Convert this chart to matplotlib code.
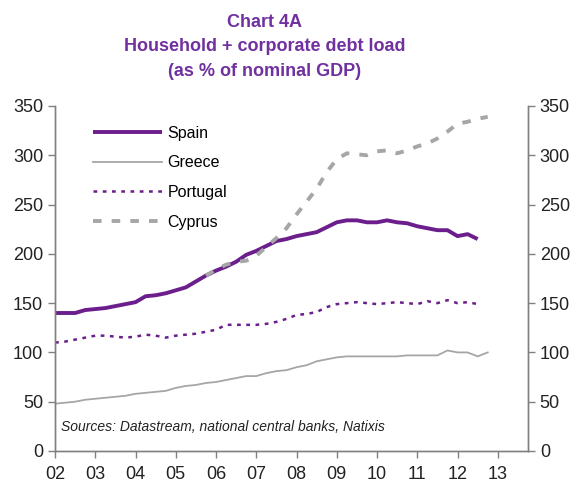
import matplotlib
matplotlib.use("Agg")
import matplotlib.pyplot as plt
import numpy as np

# quarterly observations, values in % of nominal GDP
spain_start = 2002.0
spain = [140, 140, 140, 143, 144, 145, 147, 149, 151, 157, 158, 160,
         163, 166, 172, 178, 183, 187, 192, 199, 203, 208, 213, 215,
         218, 220, 222, 227, 232, 234, 234, 232, 232, 234, 232, 231,
         228, 226, 224, 224, 218, 220, 215]

greece_start = 2002.0
greece = [48, 49, 50, 52, 53, 54, 55, 56, 58, 59, 60, 61,
          64, 66, 67, 69, 70, 72, 74, 76, 76, 79, 81, 82,
          85, 87, 91, 93, 95, 96, 96, 96, 96, 96, 96, 97,
          97, 97, 97, 102, 100, 100, 96, 100]

portugal_start = 2002.0
portugal = [110, 111, 113, 115, 117, 117, 116, 115, 116, 118, 117, 115,
            117, 118, 119, 121, 123, 128, 128, 128, 128, 129, 131, 134,
            138, 139, 141, 146, 149, 150, 151, 150, 149, 150, 151, 150,
            149, 152, 150, 153, 150, 151, 149]

cyprus_start = 2005.75
cyprus = [178, 184, 189, 192, 193, 198, 207, 216, 226, 240, 253, 266,
          283, 296, 302, 301, 300, 304, 305, 302, 305, 309, 312, 317,
          324, 332, 334, 337, 339]

year_ticks = list(range(2002, 2014))
year_labels = [f"{y % 100:02d}" for y in year_ticks]
value_ticks = [0, 50, 100, 150, 200, 250, 300, 350]

PURPLE = "#6B1E8C"
GREY = "#A6A6A6"
TITLE = "#7030A0"

plt.rcParams["font.family"] = ["Liberation Sans", "DejaVu Sans"]


def quarters(start, values):
    return start + 0.25 * np.arange(len(values))


fig = plt.figure(figsize=(5.72, 4.93), dpi=100)
ax = fig.add_axes([0.0962, 0.0852, 0.923 - 0.0962, 0.785 - 0.0852])

ax.plot(quarters(greece_start, greece), greece, color=GREY, lw=1.3, label="Greece")
ax.plot(quarters(spain_start, spain), spain, color=PURPLE, lw=2.8,
        label="Spain", solid_capstyle="butt")
ax.plot(quarters(portugal_start, portugal), portugal, color=PURPLE, lw=1.8,
        dashes=(1.5, 2.2), label="Portugal")
ax.plot(quarters(cyprus_start, cyprus), cyprus, color=GREY, lw=2.8,
        dashes=(2.2, 2.6), label="Cyprus")

ax.set_xlim(2002, 2013.75)
ax.set_ylim(0, 350)
ax.set_xticks(year_ticks)
ax.set_xticklabels(year_labels)
ax.set_yticks(value_ticks)

ax2 = ax.twinx()
ax2.set_ylim(0, 350)
ax2.set_yticks(value_ticks)

for a in (ax, ax2):
    a.spines["top"].set_visible(False)
    for s in ("left", "right", "bottom"):
        a.spines[s].set_color("#808080")
        a.spines[s].set_linewidth(1.0)
    a.tick_params(colors="#808080", labelcolor="#222222", labelsize=13,
                  length=5, width=1.0)
ax.tick_params(axis="x", pad=6)

handles, labels = ax.get_legend_handles_labels()
order = [labels.index(n) for n in ["Spain", "Greece", "Portugal", "Cyprus"]]
ax.legend([handles[i] for i in order], [labels[i] for i in order],
          loc="upper left", bbox_to_anchor=(0.05, 0.985), frameon=False,
          fontsize=11.5, handlelength=4.3, labelspacing=0.92, handletextpad=0.35)

ax.text(0.012, 0.058, "Sources: Datastream, national central banks, Natixis",
        transform=ax.transAxes, fontsize=10, style="italic", color="#222222")

fig.text(0.462, 0.955, "Chart 4A", ha="center", va="center", fontsize=13,
         fontweight="bold", color=TITLE)
fig.text(0.462, 0.905, "Household + corporate debt load", ha="center", va="center",
         fontsize=13, fontweight="bold", color=TITLE)
fig.text(0.462, 0.854, "(as % of nominal GDP)", ha="center", va="center",
         fontsize=13, fontweight="bold", color=TITLE)

fig.savefig("out.png", dpi=100)
